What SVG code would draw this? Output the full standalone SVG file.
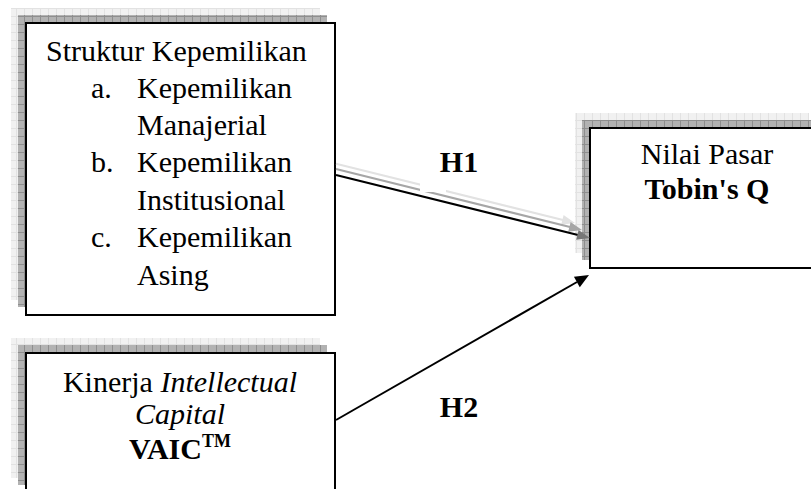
<svg xmlns="http://www.w3.org/2000/svg" width="811" height="489" viewBox="0 0 811 489">
<style>
.box{fill:#fff;stroke:#000;stroke-width:2}
.sh1{fill:url(#pl)}
.sh2{fill:url(#pd)}
.t{font-family:"Liberation Serif","Times New Roman",serif;font-size:30px;fill:#000}
.b{font-weight:bold}
.i{font-style:italic}
.ln{stroke:#000;stroke-width:2;fill:none}
</style>
<defs>
<pattern id="pl" width="8" height="8" patternUnits="userSpaceOnUse">
<rect width="8" height="8" fill="#f1f1f1"/>
<path d="M0 0.5H8M0.5 0V8" stroke="#e2e2e2" stroke-width="1"/>
</pattern>
<pattern id="pd" width="8" height="8" patternUnits="userSpaceOnUse">
<rect width="8" height="8" fill="#b2b2b2"/>
<path d="M0 0.5H8M0.5 0V8" stroke="#8e8e8e" stroke-width="1"/>
</pattern>
</defs>
<rect width="811" height="489" fill="#fff"/>

<g id="node-struktur">
<rect class="sh1" x="11" y="8" width="309" height="292"/>
<rect class="sh2" x="18" y="15" width="309" height="292"/>
<rect class="box" x="26" y="23" width="309" height="292"/>
<text class="t" x="46" y="61">Struktur Kepemilikan</text>
<text class="t" x="91" y="98">a.</text>
<text class="t" x="137" y="98">Kepemilikan</text>
<text class="t" x="137" y="135">Manajerial</text>
<text class="t" x="91" y="172">b.</text>
<text class="t" x="137" y="172">Kepemilikan</text>
<text class="t" x="137" y="210">Institusional</text>
<text class="t" x="91" y="247">c.</text>
<text class="t" x="137" y="247">Kepemilikan</text>
<text class="t" x="137" y="285">Asing</text>
</g>

<g id="node-kinerja">
<rect class="sh1" x="11" y="338" width="309" height="140"/>
<rect class="sh2" x="18" y="345" width="309" height="140"/>
<rect class="box" x="26" y="353" width="309" height="140"/>
<text class="t" x="180" y="392" text-anchor="middle">Kinerja <tspan class="i">Intellectual</tspan></text>
<text class="t i" x="180" y="424" text-anchor="middle">Capital</text>
<text class="t b" x="180" y="459" text-anchor="middle">VAIC<tspan font-size="18" dy="-12">TM</tspan></text>
</g>

<g id="node-nilai">
<rect class="sh1" x="575" y="113" width="234" height="140"/>
<rect class="sh2" x="582" y="120" width="234" height="140"/>
<rect class="box" x="590" y="128" width="234" height="140"/>
<text class="t" x="707" y="164" text-anchor="middle">Nilai Pasar</text>
<text class="t b" x="707" y="199" text-anchor="middle">Tobin's Q</text>
</g>

<g id="connectors">
<g transform="translate(-15,-15)">
<line x1="351" y1="178.7" x2="578" y2="235" stroke="#e2e2e2" stroke-width="2"/>
<polygon points="590,238 578.6,230 576.2,239.8" fill="#e2e2e2"/>
</g>
<g transform="translate(-8,-8)">
<line x1="344" y1="177" x2="578" y2="235" stroke="#a6a6a6" stroke-width="2"/>
<polygon points="590,238 578.6,230 576.2,239.8" fill="#a6a6a6"/>
</g>
<rect x="420" y="160" width="26" height="32" fill="#fff"/>
<line class="ln" x1="336" y1="175" x2="578" y2="235"/>
<polygon points="590,238 578.6,230 576.2,239.8" fill="#777"/>
<line class="ln" x1="336" y1="420" x2="577" y2="282"/>
<polygon points="589,275 579.8,287.2 573.9,276.8" fill="#000"/>
</g>

<g id="labels">
<text class="t b" x="459" y="172" text-anchor="middle">H1</text>
<text class="t b" x="459" y="417" text-anchor="middle">H2</text>
</g>
</svg>
